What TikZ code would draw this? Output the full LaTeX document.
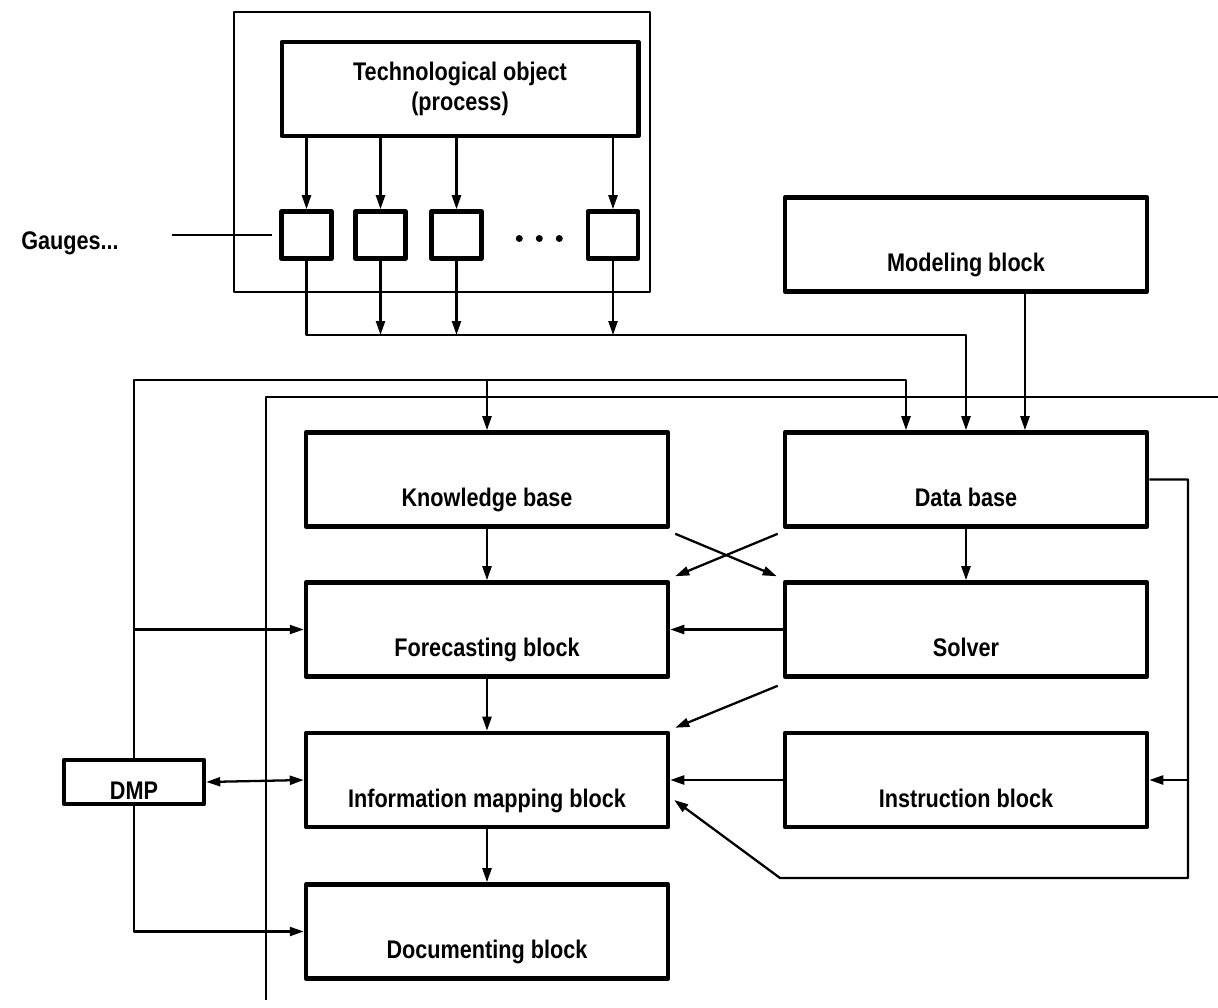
\documentclass[tikz,border=0pt]{standalone}
\usepackage{fontspec}
\setmainfont{Liberation Sans}[FakeStretch=0.85]
\usetikzlibrary{arrows.meta,calc}
\begin{document}
\begin{tikzpicture}[x=0.02cm, y=-0.02cm, line join=round, >={Triangle[length=0.28cm,width=0.18cm]},
  font=\fontsize{14.5}{17}\selectfont\bfseries,
  blk/.style={draw, line width=2.6pt, minimum width=7.24cm, minimum height=1.88cm, text height=1.09cm, text depth=0pt, inner sep=0pt},
  gauge/.style={draw, line width=2.6pt, minimum width=1cm, minimum height=0.94cm, inner sep=0pt},
  wire/.style={line width=1.3pt}]
\def\colA{487}\def\colB{966}
\useasboundingbox (0,0) rectangle (1218,1008);
% gauges frame
\draw[line width=0.8pt] (234,12) rectangle (650,292);
\node[blk, minimum width=7.13cm, text height=, text depth=, align=center] (tech) at (460,89) {Technological object\\(process)};
\foreach \n/\x in {1/306.5,2/380.5,3/456.5,4/613}
  \node[gauge] (g\n) at (\x,235) {};
\foreach \x in {519.3,539.3,559.3} \fill (\x,238.5) circle (0.07cm);
\node (gtxt) at (70,243) {Gauges...};
\node[blk] (mod) at (\colB,244.5) {Modeling block};
% main blocks
\node[blk] (kb) at (\colA,479.5) {Knowledge base};
\node[blk] (db) at (\colB,479.5) {Data base};
\node[blk] (fc) at (\colA,629.5) {Forecasting block};
\node[blk] (sv) at (\colB,629.5) {Solver};
\node[blk] (im) at (\colA,780) {Information mapping block};
\node[blk] (ib) at (\colB,780) {Instruction block};
\node[blk] (doc) at (\colA,931.5) {Documenting block};
\node[blk, minimum width=2.8cm, minimum height=0.88cm, text height=0.69cm] (dmp) at (134,782) {DMP};
\coordinate (bus) at (966,335);
\coordinate (l1) at (134,380);
\coordinate (l2) at (266,397);
\coordinate (fb) at (1188,878);
% gauges
\draw[wire] ([xshift=-2.14cm]g1.west) -- ([xshift=-0.14cm]g1.west);
\foreach \n in {1,...,4}
  \draw[wire,->] (tech.south -| g\n) -- (g\n.north);
\draw[wire,->] (g1.south) |- (bus) -- (bus |- db.north);
\foreach \n in {2,3,4}
  \draw[wire,->] (g\n.south) -- (g\n.south |- bus);
\draw[wire,->] ([xshift=1.18cm]mod.south) -- ([xshift=1.18cm]db.north);
% DMP lines
\draw[wire,->] (dmp.north) -- (l1) -| ([xshift=-1.2cm]db.north);
\draw[wire,->] (kb.north |- l1) -- (kb.north);
\draw[wire,->] (dmp.north |- fc.west) -- (fc.west);
\draw[wire,<->] (dmp.east) -- (im.west);
\draw[wire,->] (dmp.south) |- (doc.west);
\draw[wire] (266,1000) -- (l2) -- (1218,397);
% block links
\draw[wire,->] (kb) -- (fc);
\draw[wire,->] (fc) -- (im);
\draw[wire,->] (im) -- (doc);
\draw[wire,->] (db) -- (sv);
\draw[wire,->] ($(db.south west)+(-5,5)$) -- ($(fc.north east)+(5,-4)$);
\draw[wire,->] ($(kb.south east)+(5,5)$) -- ($(sv.north west)+(-6,-4)$);
\draw[wire,->] (sv.west) -- (fc.east);
\draw[wire,->] ($(sv.south west)+(-5,7)$) -- ($(im.north east)+(5,-3)$);
\draw[wire,->] (ib.west) -- (im.east);
\draw[wire,->] (db.east) -| (fb) -- (780,878) -- ($(im.east)+(4,20)$);
\draw[wire,->] (ib.east -| fb) -- (ib.east);
\end{tikzpicture}
\end{document}
